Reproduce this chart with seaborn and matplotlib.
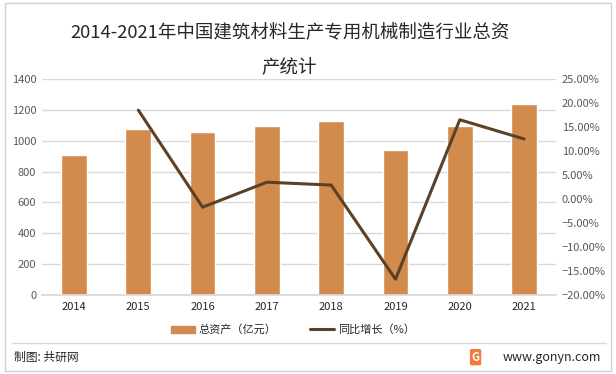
import numpy as np
import pandas as pd
import seaborn as sns
import matplotlib.pyplot as plt
from matplotlib.patches import Rectangle
from matplotlib.lines import Line2D
from matplotlib.ticker import PercentFormatter

# data
years = ['2014', '2015', '2016', '2017', '2018', '2019', '2020', '2021']
assets = [910, 1078, 1056, 1095, 1128, 940, 1095, 1238]
growth_years = ['2015', '2016', '2017', '2018', '2019', '2020', '2021']
growth = [18.5, -1.7, 3.5, 2.9, -16.7, 16.5, 12.5]

bar_color = '#D38B4D'
line_color = '#5C4129'

sns.set_theme(style='white')
plt.rcParams['font.family'] = ['Noto Sans CJK SC', 'DejaVu Sans']

fig = plt.figure(figsize=(6.16, 3.74), dpi=100)
ax = fig.add_axes([0.068, 0.211, 0.835, 0.578])

df = pd.DataFrame({'year': years, 'assets': assets})
sns.barplot(data=df, x='year', y='assets', color=bar_color, width=0.4,
            saturation=1, ax=ax)
ax.set_ylim(0, 1400)
ax.set_yticks(range(0, 1401, 200))
ax.set_xlim(-0.5, 7.5)
ax.yaxis.grid(True, color='#D9D9D9', linewidth=1)
ax.set_axisbelow(True)
for s in ['top', 'right', 'left']:
    ax.spines[s].set_visible(False)
ax.spines['bottom'].set_color('#D9D9D9')
ax.set_xlabel('')
ax.set_ylabel('')
ax.tick_params(axis='y', labelsize=8, colors='#595959', length=0, pad=4)
ax.tick_params(axis='x', labelsize=8, colors='#262626', length=0, pad=5)

ax2 = ax.twinx()
pos = [years.index(y) for y in growth_years]
gdf = pd.DataFrame({'pos': pos, 'growth': growth})
sns.lineplot(data=gdf, x='pos', y='growth', color=line_color, linewidth=2.2, ax=ax2)
ax2.set_ylim(-20, 25)
ax2.set_yticks(range(-20, 26, 5))
ax2.yaxis.set_major_formatter(PercentFormatter(decimals=2))
ax2.set_ylabel('')
for s in ax2.spines.values():
    s.set_visible(False)
ax2.tick_params(axis='y', labelsize=8, colors='#595959', length=0, pad=4)
ax.set_xlim(-0.5, 7.5)

# title
fig.text(0.47, 0.91, '2014-2021年中国建筑材料生产专用机械制造行业总资', ha='center',
         va='center', fontsize=13.3, color='#262626')
fig.text(0.47, 0.818, '产统计', ha='center', va='center', fontsize=13.3, color='#262626')

# legend
handles = [Rectangle((0, 0), 1, 1, color=bar_color),
           Line2D([0], [0], color=line_color, linewidth=2.2)]
fig.legend(handles, ['总资产（亿元）', '同比增长（%）'], loc='center',
           bbox_to_anchor=(0.475, 0.118), ncol=2, frameon=False, fontsize=8,
           handlelength=2.2, handleheight=0.6, columnspacing=3, handletextpad=0.3)

# footer
fig.add_artist(Line2D([0.02, 0.983], [0.083, 0.083], color='#D9D9D9', linewidth=1))
fig.add_artist(Rectangle((0.008, 0.008), 0.984, 0.984, fill=False,
                         edgecolor='#D0D0D0', linewidth=1))
fig.text(0.023, 0.045, '制图: 共研网', fontsize=8.5, va='center', color='#262626')
fig.text(0.772, 0.045, 'G', fontsize=8, fontweight='bold', va='center', ha='center',
         color='white', bbox=dict(boxstyle='round,pad=0.15', fc='#F07B3C', ec='none'))
fig.text(0.975, 0.045, 'www.gonyn.com', fontsize=9, va='center', ha='right', color='#262626')

fig.savefig('out.png', dpi=100)
